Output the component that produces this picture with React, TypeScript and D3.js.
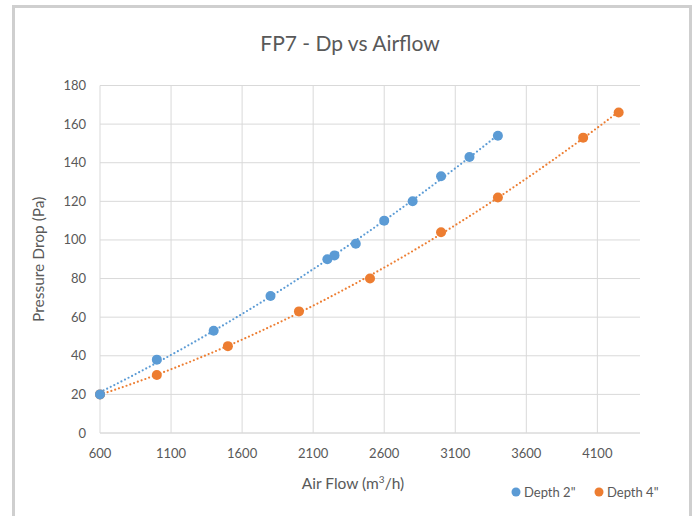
import React from "react";
import * as d3 from "d3";

const title = "FP7 - Dp vs Airflow";
const xTicks = [600, 1100, 1600, 2100, 2600, 3100, 3600, 4100];
const yTicks = [0, 20, 40, 60, 80, 100, 120, 140, 160, 180];

const depth2X = [600, 1000, 1400, 1800, 2200, 2250, 2400, 2600, 2800, 3000, 3200, 3400];
const depth2Y = [20, 38, 53, 71, 90, 92, 98, 110, 120, 133, 143, 154];
const depth4X = [600, 1000, 1500, 2000, 2500, 3000, 3400, 4000, 4250];
const depth4Y = [20, 30, 45, 63, 80, 104, 122, 153, 166];

const seriesNames = ['Depth 2"', 'Depth 4"'];
const BLUE = "#5B9BD5";
const ORANGE = "#ED7D31";
const FONT = "Lato, 'Open Sans', sans-serif";
const TEXT = "#595959";

// quadratic least-squares trendline (like Excel's polynomial trendline)
function quadFit(xs: number[], ys: number[]) {
  const n = xs.length;
  const s = [0, 0, 0, 0, 0];
  const t = [0, 0, 0];
  for (let i = 0; i < n; i++) {
    const x = xs[i] / 1000;
    for (let k = 0; k <= 4; k++) s[k] += Math.pow(x, k);
    for (let k = 0; k <= 2; k++) t[k] += ys[i] * Math.pow(x, k);
  }
  const A = [
    [s[0], s[1], s[2], t[0]],
    [s[1], s[2], s[3], t[1]],
    [s[2], s[3], s[4], t[2]],
  ];
  for (let i = 0; i < 3; i++) {
    for (let j = i + 1; j < 3; j++) {
      const f = A[j][i] / A[i][i];
      for (let k = i; k < 4; k++) A[j][k] -= f * A[i][k];
    }
  }
  const c = [0, 0, 0];
  for (let i = 2; i >= 0; i--) {
    let v = A[i][3];
    for (let k = i + 1; k < 3; k++) v -= A[i][k] * c[k];
    c[i] = v / A[i][i];
  }
  return (xv: number) => {
    const x = xv / 1000;
    return c[0] + c[1] * x + c[2] * x * x;
  };
}

export default function App() {
  const W = 697, H = 516;
  const x = d3.scaleLinear().domain([600, 4400]).range([100, 640]);
  const y = d3.scaleLinear().domain([0, 180]).range([433, 85.5]);

  const trend = (xs: number[], ys: number[]) => {
    const f = quadFit(xs, ys);
    const lo = d3.min(xs)!, hi = d3.max(xs)!;
    const pts = d3.range(0, 101).map((i) => lo + ((hi - lo) * i) / 100);
    return d3
      .line<number>()
      .x((v) => x(v))
      .y((v) => y(f(v)))(pts) as string;
  };

  const series = [
    { xs: depth4X, ys: depth4Y, color: ORANGE },
    { xs: depth2X, ys: depth2Y, color: BLUE },
  ];

  return (
    <svg
      width={W}
      height={H}
      style={{ position: "absolute", left: 0, top: 0, background: "#fff" }}
      fontFamily={FONT}
    >
      <rect x={0} y={0} width={W} height={H} fill="#fff" />
      <rect x={13.5} y={6.5} width={677} height={H + 10} fill="#fff" stroke="#cfcfcf" strokeWidth={3} />
      <text x={350} y={51} textAnchor="middle" fontSize={21} fill={TEXT}>
        {title}
      </text>
      {yTicks.map((t) => (
        <g key={"y" + t}>
          <line x1={100} x2={640} y1={y(t)} y2={y(t)} stroke={t === 0 ? "#c8c8c8" : "#d9d9d9"} strokeWidth={1} />
          <text x={86} y={y(t)} dy="0.35em" textAnchor="end" fontSize={13} fill={TEXT}>
            {t}
          </text>
        </g>
      ))}
      {xTicks.map((t) => (
        <g key={"x" + t}>
          <line x1={x(t)} x2={x(t)} y1={y(0)} y2={y(180)} stroke="#d9d9d9" strokeWidth={1} />
          <text x={x(t)} y={453} dy="0.35em" textAnchor="middle" fontSize={13} fill={TEXT}>
            {t}
          </text>
        </g>
      ))}
      <text
        transform={`translate(44,${(y(0) + y(180)) / 2}) rotate(-90)`}
        textAnchor="middle"
        fontSize={15.5}
        fill={TEXT}
      >
        Pressure Drop (Pa)
      </text>
      <text x={353} y={489} textAnchor="middle" fontSize={15.5} fill={TEXT}>
        Air Flow (m
        <tspan fontSize={10} dy={-6}>3</tspan>
        <tspan dy={6}>/h)</tspan>
      </text>
      {series.map((s, i) => (
        <path
          key={"t" + i}
          d={trend(s.xs, s.ys)}
          fill="none"
          stroke={s.color}
          strokeWidth={2.2}
          strokeDasharray="0 4"
          strokeLinecap="round"
        />
      ))}
      {series.map((s, i) => (
        <g key={"m" + i}>
          {s.xs.map((xv, j) => (
            <circle key={j} cx={x(xv)} cy={y(s.ys[j])} r={5} fill={s.color} />
          ))}
        </g>
      ))}
      <g>
        <circle cx={516} cy={492} r={4.5} fill={BLUE} />
        <text x={524} y={492} dy="0.35em" fontSize={13} fill={TEXT}>
          {seriesNames[0]}
        </text>
        <circle cx={599} cy={492} r={4.5} fill={ORANGE} />
        <text x={607} y={492} dy="0.35em" fontSize={13} fill={TEXT}>
          {seriesNames[1]}
        </text>
      </g>
    </svg>
  );
}
